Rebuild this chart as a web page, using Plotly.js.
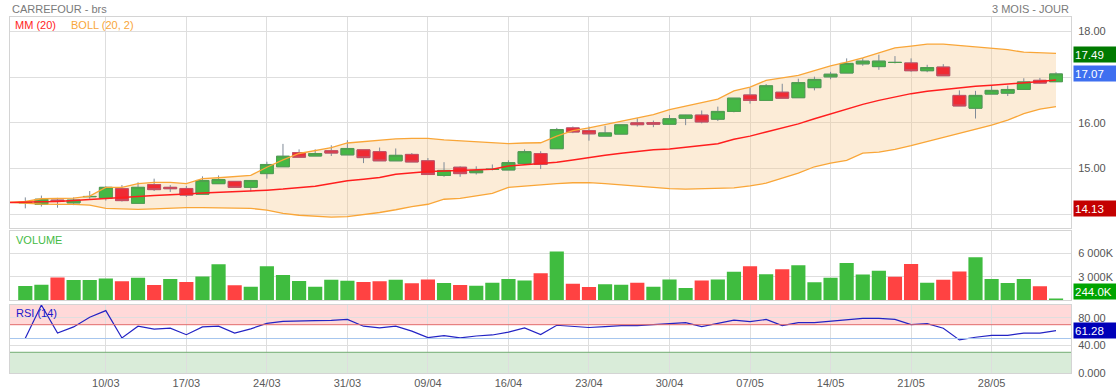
<!DOCTYPE html>
<html>
<head>
<meta charset="utf-8">
<script src="https://cdn.plot.ly/plotly-3.0.1.min.js"></script>
<style>html,body{margin:0;padding:0;background:#fff}#chart{width:1116px;height:391px}</style>
</head>
<body>
<div id="chart"></div>
<script>
// ---- data ----
const tickLabels = ['10/03','17/03','24/03','31/03','09/04','16/04','23/04','30/04','07/05','14/05','21/05','28/05'];
const tickDays = [5,10,15,20,25,30,35,40,45,50,55,60];

const openP  = [14.25,14.22,14.31,14.25,14.385,14.355,14.56,14.24,14.65,14.59,14.565,14.44,14.67,14.72,14.59,14.89,15.04,15.35,15.275,15.39,15.30,15.41,15.37,15.17,15.31,15.17,14.85,15.03,14.91,14.98,14.97,15.11,15.33,15.435,15.89,15.83,15.71,15.754,16.00,16.007,15.97,16.10,16.17,16.08,16.25,16.61,16.49,16.67,16.55,16.77,17.006,17.09,17.29,17.23,17.32,17.31,17.14,17.22,16.60,16.32,16.63,16.65,16.73,16.93,16.90];
const highP  = [14.37,14.41,14.36,14.37,14.51,14.61,14.64,14.70,14.78,14.64,14.62,14.83,14.85,14.72,14.74,15.15,15.54,15.42,15.42,15.51,15.62,15.41,15.46,15.44,15.34,15.23,15.14,15.05,15.05,15.09,15.18,15.42,15.38,15.89,15.92,15.92,15.935,15.957,16.10,16.05,16.174,16.174,16.27,16.355,16.54,16.77,16.85,16.855,16.965,17.01,17.116,17.41,17.417,17.49,17.46,17.41,17.27,17.284,16.71,16.70,16.815,16.815,16.976,16.983,17.108];
const lowP   = [14.13,14.17,14.145,14.20,14.34,14.30,14.28,14.24,14.51,14.49,14.38,14.44,14.67,14.59,14.50,14.78,15.04,15.25,15.275,15.275,15.30,15.12,15.17,15.17,15.145,14.87,14.82,14.82,14.87,14.96,14.97,15.11,14.99,15.435,15.775,15.61,15.71,15.754,15.92,15.906,15.97,15.95,15.99,16.04,16.23,16.42,16.49,16.54,16.55,16.71,16.954,17.09,17.248,17.16,17.30,17.116,17.108,17.03,16.37,16.095,16.63,16.587,16.73,16.86,16.90];
const closeP = [14.26,14.33,14.28,14.31,14.39,14.59,14.30,14.59,14.54,14.56,14.42,14.74,14.76,14.59,14.74,15.09,15.27,15.25,15.33,15.34,15.44,15.24,15.17,15.29,15.145,14.87,14.96,14.89,14.96,14.985,15.13,15.37,15.09,15.855,15.80,15.76,15.78,15.957,15.96,15.971,16.09,16.17,16.02,16.25,16.54,16.49,16.81,16.54,16.88,16.95,17.064,17.30,17.35,17.35,17.322,17.14,17.21,17.03,16.37,16.60,16.71,16.73,16.895,16.87,17.07];

// moving average and Bollinger bands (first value sits one day before the first candle)
const mm20 = [14.26,14.26,14.275,14.283,14.297,14.326,14.348,14.377,14.391,14.413,14.42,14.442,14.464,14.478,14.493,14.514,14.529,14.551,14.58,14.616,14.674,14.732,14.768,14.804,14.877,14.913,14.935,14.949,14.964,14.978,14.986,15.058,15.08,15.10,15.138,15.188,15.246,15.29,15.333,15.377,15.413,15.43,15.471,15.507,15.543,15.64,15.71,15.80,15.884,15.978,16.088,16.198,16.301,16.404,16.492,16.565,16.639,16.69,16.727,16.771,16.80,16.822,16.844,16.873,16.903,16.935];
const bollUp = [14.26,14.28,14.34,14.355,14.355,14.40,14.59,14.59,14.67,14.70,14.70,14.67,14.78,14.80,14.83,14.85,15.03,15.19,15.33,15.39,15.46,15.56,15.59,15.61,15.65,15.66,15.66,15.63,15.61,15.59,15.56,15.545,15.56,15.565,15.71,15.83,15.89,15.96,16.04,16.11,16.18,16.29,16.37,16.44,16.52,16.70,16.78,16.93,16.98,17.04,17.14,17.245,17.33,17.42,17.53,17.64,17.68,17.72,17.72,17.69,17.655,17.63,17.60,17.545,17.525,17.52];
const bollLow = [14.26,14.24,14.225,14.217,14.217,14.20,14.13,14.12,14.11,14.12,14.14,14.145,14.145,14.14,14.13,14.13,14.09,14.02,13.98,13.96,13.94,13.95,13.99,14.04,14.10,14.17,14.22,14.33,14.35,14.40,14.46,14.59,14.62,14.645,14.67,14.69,14.695,14.67,14.64,14.61,14.58,14.56,14.55,14.555,14.565,14.58,14.62,14.68,14.79,14.90,15.04,15.12,15.18,15.34,15.36,15.42,15.50,15.59,15.68,15.77,15.85,15.95,16.06,16.20,16.30,16.355];

// volume in thousands, with bar direction (1 = up / green, 0 = down / red)
const volumeK = [1833,2000,2917,2583,2583,2792,2417,2875,1958,2708,2333,3042,4583,1917,1750,4333,3208,2458,1750,2625,2500,2333,2417,2625,2167,2667,2208,1958,1875,2250,2708,2542,3458,6208,2125,1708,2042,2000,2250,1750,2667,1583,2542,2667,3625,4333,3333,3958,4458,2292,2875,4750,3292,3750,3000,4625,2250,2625,3667,5458,2708,2208,2708,1792,244];
const volumeUp = [1,1,0,1,1,1,0,1,0,1,0,1,1,0,1,1,1,1,1,1,1,0,0,1,0,0,1,0,1,1,1,1,0,1,0,0,1,1,0,1,1,1,0,1,1,0,1,0,1,1,1,1,1,1,0,0,1,0,0,1,1,1,1,0,1];

const rsi14 = [50.4,98.5,57.9,66.8,80.9,90.4,50.8,67.8,63.5,64.9,55.5,66.8,67.8,57.9,64.0,72.0,74.8,74.8,75.8,76.2,77.6,67.8,65.4,67.8,60.7,51.3,54.1,50.8,53.6,55.1,59.3,65.4,55.6,69.2,67.8,65.9,67.3,68.7,68.7,70.1,71.5,72.9,67.3,72.5,76.7,74.4,77.6,68.7,72.9,72.9,74.8,77.6,79.1,79.1,77.6,70.1,71.5,64.9,48.0,51.8,54.6,54.6,57.9,57.9,61.28];

// ---- derived ----
const days = closeP.map((_, i) => i);
const lineDays = mm20.map((_, i) => i - 1);
const bodyHigh = openP.map((o, i) => Math.max(o, closeP[i]));
const bodyLow = openP.map((o, i) => Math.min(o, closeP[i]));
const GREEN = '#45b845', RED = '#f02a33';
const volColors = volumeUp.map(u => u ? '#3fbc3f' : '#ff4242');
const lastClose = closeP[closeP.length - 1];
const maxHigh = Math.max(...highP), minLow = Math.min(...lowP);
const lastVol = volumeK[volumeK.length - 1];
const lastRsi = rsi14[rsi14.length - 1];

// Bollinger band area as a path in data coordinates (drawn under the candles)
const bandPath = 'M ' + lineDays.map((d, i) => d + ',' + bollUp[i]).join(' L ') +
  ' L ' + lineDays.slice().reverse().map((d, k) => d + ',' + bollLow[bollLow.length - 1 - k]).join(' L ') + ' Z';

const xr = [-0.95, 64.93];
const GRID = '#dedede', FRAME = '#d4d4d4';
const FONT = 'Liberation Sans, Arial, sans-serif';

const traces = [
  // wicks
  {type:'candlestick', x:days, open:openP, high:highP, low:lowP, close:closeP, xaxis:'x', yaxis:'y',
   increasing:{line:{color:'#7f8b98', width:1}, fillcolor:'#7f8b98'},
   decreasing:{line:{color:'#7f8b98', width:1}, fillcolor:'#7f8b98'}, hoverinfo:'skip'},
  // bodies
  {type:'candlestick', x:days, open:openP, high:bodyHigh, low:bodyLow, close:closeP, xaxis:'x', yaxis:'y',
   increasing:{line:{color:'#4f9f4f', width:1}, fillcolor:GREEN},
   decreasing:{line:{color:'#c94e62', width:1}, fillcolor:RED}, hoverinfo:'skip'},
  {type:'scatter', mode:'lines', x:lineDays, y:bollLow, xaxis:'x', yaxis:'y',
   line:{color:'#f9a638', width:1.3}, hoverinfo:'skip'},
  {type:'scatter', mode:'lines', x:lineDays, y:bollUp, xaxis:'x', yaxis:'y',
   line:{color:'#f9a638', width:1.3}, hoverinfo:'skip'},
  {type:'scatter', mode:'lines', x:lineDays, y:mm20, xaxis:'x', yaxis:'y',
   line:{color:'#ff1e1e', width:1.5}, hoverinfo:'skip'},
  {type:'bar', x:days, y:volumeK, xaxis:'x2', yaxis:'y2', marker:{color:volColors, line:{width:0}}, hoverinfo:'skip'},
  {type:'scatter', mode:'lines', x:days, y:rsi14, xaxis:'x3', yaxis:'y3',
   line:{color:'#2323c4', width:1.2}, hoverinfo:'skip'}
];

const xBase = {range:xr, tickvals:tickDays, showgrid:true, gridcolor:GRID, gridwidth:1, zeroline:false,
  showline:true, mirror:true, linecolor:FRAME, linewidth:1, ticks:'', fixedrange:true};
const yBase = {side:'right', showgrid:true, gridcolor:GRID, zeroline:false, showline:true, mirror:true,
  linecolor:FRAME, linewidth:1, ticks:'', ticklabelstandoff:4, fixedrange:true,
  tickfont:{family:FONT, size:11, color:'#555'}};

const badge = (text, yref, y, bg, yanchor) => ({
  text:text, xref:'paper', x:1.0019, xanchor:'left', yref:yref, y:y, yanchor:yanchor || 'middle',
  showarrow:false, bgcolor:bg, font:{family:FONT, size:11.5, color:'#ffffff'},
  width:40, height:13, borderpad:1, align:'left'
});
const label = (text, x, y, color, xanchor) => ({
  text:text, xref:'paper', yref:'paper', x:x, y:y, xanchor:xanchor || 'left', yanchor:'middle',
  showarrow:false, font:{family:FONT, size:11, color:color}
});

const layout = {
  width:1116, height:391,
  margin:{l:10, r:45, t:17, b:18},
  paper_bgcolor:'#ffffff', plot_bgcolor:'#ffffff',
  showlegend:false, hovermode:false,
  boxgap:0.2, boxgroupgap:0, bargap:0.12,
  font:{family:FONT, size:11, color:'#555'},
  xaxis: Object.assign({}, xBase, {anchor:'y', showticklabels:false, rangeslider:{visible:false}}),
  xaxis2: Object.assign({}, xBase, {anchor:'y2', showticklabels:false}),
  xaxis3: Object.assign({}, xBase, {anchor:'y3', showticklabels:true, ticktext:tickLabels,
    tickfont:{family:FONT, size:11, color:'#5a5a5a'}}),
  yaxis: Object.assign({}, yBase, {domain:[0.4081, 1], anchor:'x', range:[13.707, 18.315],
    tickvals:[14,15,16,17,18], ticktext:['','15.00','16.00','','18.00']}),
  yaxis2: Object.assign({}, yBase, {domain:[0.2037, 0.398], anchor:'x2', range:[0, 8750],
    tickvals:[3000, 6000], ticktext:['3 000K','6 000K']}),
  yaxis3: Object.assign({}, yBase, {domain:[0, 0.1919], anchor:'x3', range:[0, 99],
    tickvals:[0, 40, 80], ticktext:['0.000','40.00','80.00']}),
  shapes:[
    {type:'path', layer:'between', xref:'x', yref:'y', path:bandPath,
     fillcolor:'rgba(247,196,135,0.33)', line:{width:0}},
    {type:'rect', layer:'below', xref:'x3 domain', x0:0, x1:1, yref:'y3', y0:70, y1:99, fillcolor:'#ffd9d9', line:{width:0}},
    {type:'rect', layer:'below', xref:'x3 domain', x0:0, x1:1, yref:'y3', y0:0, y1:30, fillcolor:'#d9ecd9', line:{width:0}},
    {type:'line', xref:'x3 domain', x0:0, x1:1, yref:'y3', y0:70, y1:70, line:{color:'#e26b6b', width:1}},
    {type:'line', xref:'x3 domain', x0:0, x1:1, yref:'y3', y0:50, y1:50, line:{color:'#a6c6ee', width:1}},
    {type:'line', xref:'x3 domain', x0:0, x1:1, yref:'y3', y0:30, y1:30, line:{color:'#72ad72', width:1}}
  ],
  annotations:[
    label('CARREFOUR - brs', 0, 1.0225, '#7a7a7a'),
    label('3 MOIS - JOUR', 1, 1.0225, '#7a7a7a', 'right'),
    label('MM (20)', 0.003, 0.9775, '#ff1e1e'),
    label('BOLL (20, 2)', 0.0555, 0.9775, '#f9a638'),
    label('VOLUME', 0.004, 0.3736, '#44bb44'),
    label('RSI (14)', 0.004, 0.1685, '#1a1acc'),
    badge(maxHigh.toFixed(2), 'y', maxHigh, '#007a00'),
    badge(lastClose.toFixed(2), 'y', lastClose, '#3e6ff0'),
    badge(minLow.toFixed(2), 'y', minLow, '#c40000'),
    badge(lastVol.toFixed(1) + 'K', 'y2', 0, '#00a400', 'bottom'),
    badge(lastRsi.toFixed(2), 'y3', lastRsi, '#0000b8')
  ]
};

Plotly.newPlot('chart', traces, layout, {staticPlot:true, displayModeBar:false});
</script>
</body>
</html>
